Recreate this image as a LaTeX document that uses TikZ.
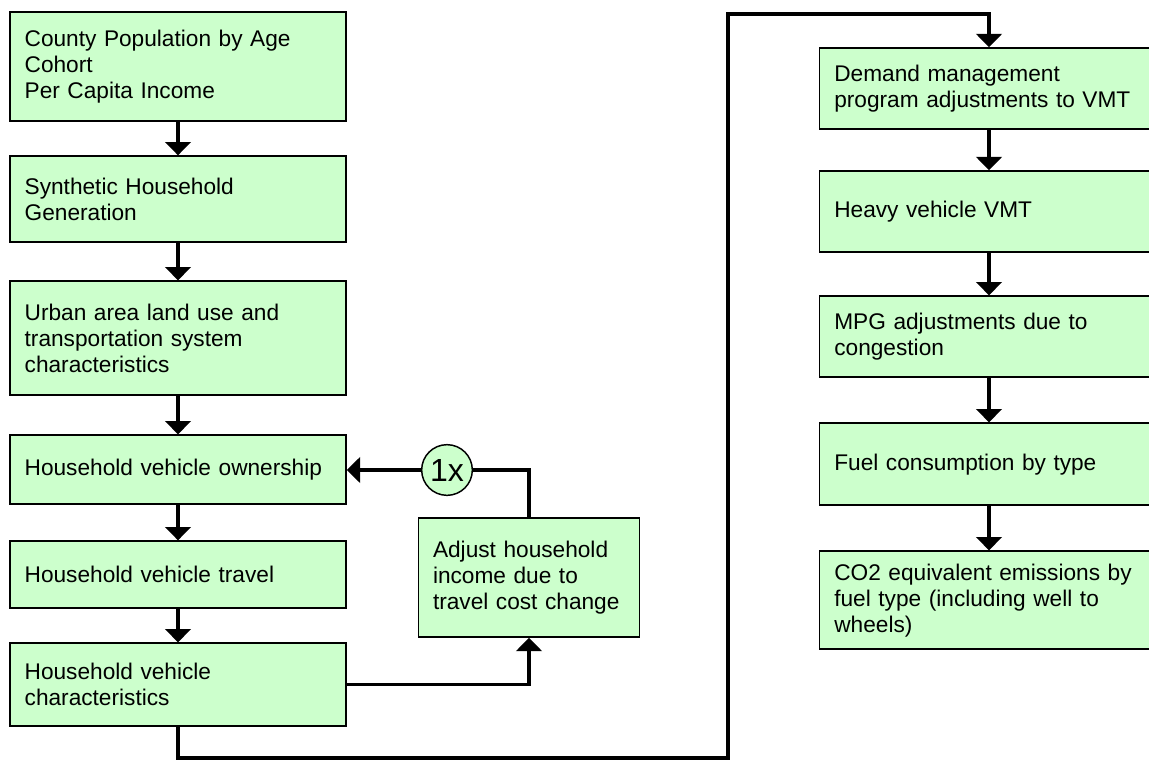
\documentclass[tikz,border=0pt]{standalone}
\usepackage{fontspec}
\setmainfont{Liberation Sans}
\usetikzlibrary{positioning,arrows.meta}
\definecolor{boxgreen}{HTML}{CCFFCC}
\tikzset{
  stage/.style args={#1,#2}{
  rectangle,
  draw=black,
  line width=1.1pt,
  fill=boxgreen,
  inner xsep=11pt,
  text width=#1pt,
  minimum height=#2pt,
  align=left,
  font=\fontsize{17}{19.5}\selectfont
  },
  counter/.style={circle,draw=black,line width=1.1pt,fill=boxgreen,
   minimum size=38pt,inner sep=0pt,font=\fontsize{24}{26}\selectfont},
  link/.style={line width=2.3pt},
  flow/.style={link,-{Triangle[width=19pt,length=10pt]}}
}
\begin{document}
\begin{tikzpicture}[x=0.75pt,y=-0.75pt]
  \clip (0,0) rectangle (1149,760);

  % left column
  \node [stage={230,81.75}] at (178,66.5) (pop) {County Population by Age\\Cohort\\Per Capita Income};
  \node [stage={230,64.5},below=25.2pt of pop] (synth) {Synthetic Household\\Generation};
  \node [stage={230,85.5},below=28.2pt of synth] (urban) {Urban area land use and\\transportation system\\characteristics};
  \node [stage={230,51.75},below=28.9pt of urban] (own) {Household vehicle ownership};
  \node [stage={230,50.25},below=26.6pt of own] (travel) {Household vehicle travel};
  \node [stage={230,62.25},below=25.2pt of travel] (chars) {Household vehicle\\characteristics};

  % income loop
  \node [stage={144,89.25}] at (529,577.5) (adjust) {Adjust household\\income due to\\travel cost change};
  \node [counter] at (447,470) (once) {1x};

  % right column
  \node [stage={232,60.75}] at (989,88.5) (dm) {Demand management\\program adjustments to VMT};
  \node [stage={232,60.75},below=30.4pt of dm] (heavy) {Heavy vehicle VMT};
  \node [stage={232,60.75},below=32pt of heavy] (mpg) {MPG adjustments due to\\congestion};
  \node [stage={232,61.5},below=33.4pt of mpg] (fuel) {Fuel consumption by type};
  \node [stage={232,73.5},below=33.4pt of fuel] (co2) {CO2 equivalent emissions by\\fuel type (including well to\\wheels)};

  \coordinate (low) at (728,758);
  \coordinate (high) at (728,14);

  \draw [flow] (pop) -- (synth);
  \draw [flow] (synth) -- (urban);
  \draw [flow] (urban) -- (own);
  \draw [flow] (own) -- (travel);
  \draw [flow] (travel) -- (chars);
  \draw [flow] (chars.east) -| (adjust.south);
  \draw [link] (adjust.north) |- (once.east);
  \draw [flow] (once.west) -- (own.east|-once);
  \draw [flow] (chars.south) |- (low) -- (high) -| (dm.north);
  \draw [flow] (dm) -- (heavy);
  \draw [flow] (heavy) -- (mpg);
  \draw [flow] (mpg) -- (fuel);
  \draw [flow] (fuel) -- (co2);
\end{tikzpicture}
\end{document}
